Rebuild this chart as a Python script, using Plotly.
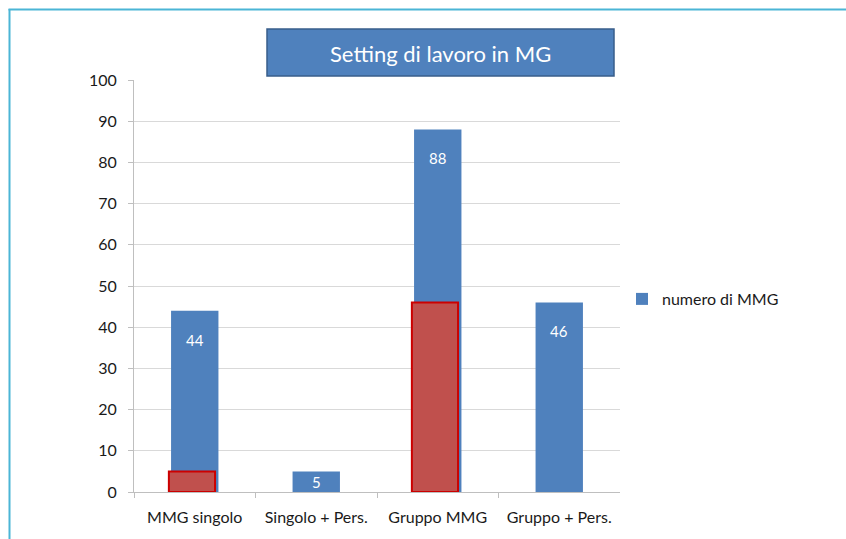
import plotly.graph_objects as go

# Categories and values
categories = ["MMG singolo", "Singolo + Pers.", "Gruppo MMG", "Gruppo + Pers."]
numero_mmg = [44, 5, 88, 46]
evidenziati = [5, None, 46, None]
y_ticks = [0, 10, 20, 30, 40, 50, 60, 70, 80, 90, 100]

W, H = 846, 539
FONT = "Lato"
BLUE = "#4f81bd"
TXT = "#1a1a1a"

# plot area in pixels
PX_L, PX_R, PX_T, PX_B = 134, 620, 80, 492
px_per_unit = (PX_B - PX_T) / 100.0

fig = go.Figure()

fig.add_trace(go.Bar(
    x=categories, y=numero_mmg, name="numero di MMG",
    marker=dict(color=BLUE, line=dict(width=0)),
    width=0.39,
))

fig.add_trace(go.Bar(
    x=categories, y=evidenziati, name="evidenziati", showlegend=False,
    marker=dict(color="#c0504d", line=dict(color="#cc0000", width=2)),
    width=0.38, offset=-0.213, hoverinfo="skip",
))

# value labels inside the blue bars
for cat, v in zip(categories, numero_mmg):
    shift = min(29, v * px_per_unit / 2)
    fig.add_annotation(
        x=cat, y=v, yshift=-shift, text=str(v), showarrow=False,
        font=dict(family=FONT, size=15, color="white"),
        xanchor="center", yanchor="middle",
    )

# title box
fig.add_shape(type="rect", xref="paper", yref="paper",
              x0=267 / W, x1=614 / W, y0=1 - 76 / H, y1=1 - 29 / H,
              fillcolor=BLUE, line=dict(color="#385d8a", width=1.5), layer="above")
fig.add_annotation(xref="paper", yref="paper", x=440.5 / W, y=1 - 53 / H,
                   text="Setting di lavoro in MG", showarrow=False,
                   font=dict(family=FONT, size=22, color="white"),
                   xanchor="center", yanchor="middle")

# frame lines at left and top
fig.add_shape(type="line", xref="paper", yref="paper",
              x0=9.5 / W, x1=9.5 / W, y0=0, y1=1 - 9 / H,
              line=dict(color="#4bb5d6", width=2))
fig.add_shape(type="line", xref="paper", yref="paper",
              x0=8.5 / W, x1=1, y0=1 - 9.5 / H, y1=1 - 9.5 / H,
              line=dict(color="#4bb5d6", width=2))

fig.update_layout(
    width=W, height=H, autosize=False,
    margin=dict(l=0, r=0, t=0, b=0),
    paper_bgcolor="white", plot_bgcolor="white",
    barmode="overlay",
    font=dict(family=FONT, size=16, color=TXT),
    xaxis=dict(
        domain=[PX_L / W, PX_R / W], automargin=False,
        type="category", showgrid=False,
        showline=True, linecolor="#bfbfbf", linewidth=1,
        ticks="outside", tickson="boundaries", ticklen=5, tickcolor="#bfbfbf",
        tickfont=dict(family=FONT, size=16, color=TXT),
        ticklabelstandoff=11,
    ),
    yaxis=dict(
        domain=[1 - PX_B / H, 1 - PX_T / H], automargin=False,
        range=[0, 100], tickvals=y_ticks,
        showgrid=True, gridcolor="#d9d9d9", gridwidth=1,
        showline=True, linecolor="#bfbfbf", linewidth=1,
        ticks="outside", ticklen=5, tickcolor="#bfbfbf",
        tickfont=dict(family=FONT, size=16, color=TXT),
        ticklabelstandoff=8, zeroline=False,
    ),
    legend=dict(
        x=622 / W, y=1 - 299 / H, xanchor="left", yanchor="middle",
        font=dict(family=FONT, size=16, color=TXT),
        bgcolor="rgba(0,0,0,0)", itemwidth=30,
    ),
    showlegend=True,
)

fig.write_html("out.html")
